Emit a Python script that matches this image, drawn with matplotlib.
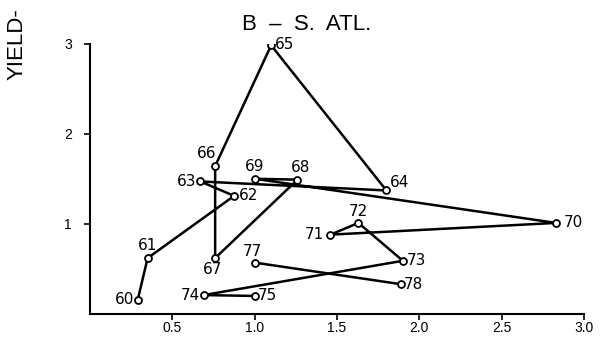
import matplotlib.pyplot as plt

# yield vs effort, B - S. Atlantic, by year (19xx)
years_a = [60, 61, 62, 63, 64, 65, 66, 67, 68, 69, 70, 71, 72, 73, 74, 75]
effort_a = [0.29, 0.35, 0.875, 0.67, 1.80, 1.10, 0.76, 0.76, 1.26, 1.00, 2.83, 1.46, 1.63, 1.90, 0.69, 1.00]
yield_a = [0.16, 0.62, 1.31, 1.47, 1.37, 2.98, 1.64, 0.62, 1.49, 1.50, 1.01, 0.88, 1.01, 0.59, 0.21, 0.20]

years_b = [77, 78]
effort_b = [1.00, 1.89]
yield_b = [0.57, 0.33]

xticks = [0.5, 1.0, 1.5, 2.0, 2.5, 3.0]
xticklabels = ['0.5', '1.0', '1.5', '2.0', '2.5', '3.0']
yticks = [1, 2, 3]

# label placement around each point (pixels)
offs = {60: (-4, 0, 'right'), 61: (0, 13, 'center'), 62: (5, 0, 'left'),
        63: (-4, 0, 'right'), 64: (3, 8, 'left'), 65: (4, 1, 'left'),
        66: (-9, 13, 'center'), 67: (-3, -11, 'center'), 68: (3, 12, 'center'),
        69: (0, 12, 'center'), 70: (8, 0, 'left'), 71: (-6, 0, 'right'),
        72: (0, 11, 'center'), 73: (4, 0, 'left'), 74: (-4, 0, 'right'),
        75: (3, 0, 'left'), 77: (-2, 11, 'center'), 78: (3, 0, 'left')}

plt.rcParams['font.family'] = ['Liberation Sans', 'DejaVu Sans']

fig = plt.figure(figsize=(6.02, 3.37), dpi=100)
ax = fig.add_axes([90 / 602, 1 - 314 / 337, 494 / 602, 270.5 / 337])

for xs, ys in [(effort_a, yield_a), (effort_b, yield_b)]:
    ax.plot(xs, ys, color='black', lw=1.8, marker='o', ms=5,
            mfc='white', mec='black', mew=1.3)

for yr, x, y in zip(years_a + years_b, effort_a + effort_b, yield_a + yield_b):
    dx, dy, ha = offs[yr]
    ax.annotate(str(yr), (x, y), xytext=(dx, dy), textcoords='offset pixels',
                ha=ha, va='center', fontsize=11, family='DejaVu Sans')

ax.set_xlim(0, 3.0)
ax.set_ylim(0, 3.0)
ax.set_xticks(xticks)
ax.set_xticklabels(xticklabels)
ax.set_yticks(yticks)
ax.tick_params(direction='out', length=4, width=1.2, labelsize=10)
ax.tick_params(axis='x', pad=1)
ax.tick_params(axis='y', pad=9)
for s in ['top', 'right']:
    ax.spines[s].set_visible(False)
for s in ['left', 'bottom']:
    ax.spines[s].set_linewidth(1.5)

fig.text(307 / 602, 1 - 25 / 337, 'B  –  S.  ATL.', ha='center', va='center',
         fontsize=16)
fig.text(17 / 602, 1 - 80 / 337, 'YIELD-', rotation=90, ha='center', va='bottom',
         fontsize=16)

plt.savefig('out.png', dpi=100)
